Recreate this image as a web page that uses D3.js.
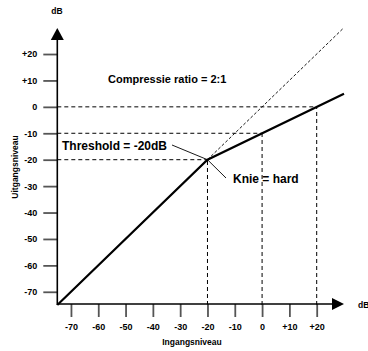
<!DOCTYPE html>
<html><head><meta charset="utf-8">
<script src="https://cdn.jsdelivr.net/npm/d3@7"></script>
<style>html,body{margin:0;padding:0;background:#fff;} svg{display:block;}</style>
</head><body>
<script>
const tickValues = [-70, -60, -50, -40, -30, -20, -10, 0, 10, 20];
const tickLabels = ["-70", "-60", "-50", "-40", "-30", "-20", "-10", "0", "+10", "+20"];
const transferIn = [-75, -20, 30];
const transferOut = [-75, -20, 5];
const unityIn = [-20, 30];
const unityOut = [-20, 30];
const guideIn = [-20, 0, 20];
const guideOut = [-20, -10, 0];
const axisUnit = "dB";
const xTitle = "Ingangsniveau";
const yTitle = "Uitgangsniveau";
const ratioText = "Compressie ratio = 2:1";
const thresholdText = "Threshold = -20dB";
const kneeText = "Knie = hard";

const W = 368, H = 351;
const svg = d3.select("body").append("svg").attr("width", W).attr("height", H)
  .style("font-family", "'Liberation Sans', Arial, Helvetica, sans-serif");

const x = d3.scaleLinear().domain([-75, 30]).range([57.3, 344]);
const y = d3.scaleLinear().domain([-75, 30]).range([305, 27.6]);

// dashed guide lines
const g = svg.append("g").attr("stroke", "#000").attr("stroke-width", 1).attr("stroke-dasharray", "4,3").attr("fill", "none");
guideIn.forEach((v, i) => {
  g.append("line").attr("x1", x(-75)).attr("x2", x(v)).attr("y1", y(guideOut[i])).attr("y2", y(guideOut[i]));
  g.append("line").attr("x1", x(v)).attr("x2", x(v)).attr("y1", y(-75)).attr("y2", y(guideOut[i]));
});

// unity dashed line
svg.append("path").datum(unityIn.map((v, i) => [v, unityOut[i]]))
  .attr("d", d3.line().x(d => x(d[0])).y(d => y(d[1])))
  .attr("fill", "none").attr("stroke", "#000").attr("stroke-width", 0.9).attr("stroke-dasharray", "3,2");

// axis ticks (gray)
const xAxis = d3.axisBottom(x).tickValues(tickValues).tickSize(13).tickFormat((d, i) => tickLabels[i]);
const yAxis = d3.axisLeft(y).tickValues(tickValues).tickSize(14).tickFormat((d, i) => tickLabels[i]);
const gx = svg.append("g").attr("transform", `translate(0,${y(-75) - 1})`).call(xAxis);
const gy = svg.append("g").attr("transform", `translate(${x(-75)},0)`).call(yAxis);
[gx, gy].forEach(a => {
  a.select(".domain").remove();
  a.selectAll(".tick line").attr("stroke", "#555").attr("stroke-width", 1.8);
  a.selectAll(".tick text").attr("fill", "#000").style("font-weight", "bold").style("font-size", "9px").style("font-family", "'Liberation Sans', Arial, sans-serif");
});
gx.selectAll(".tick text").attr("y", 20);
gy.selectAll(".tick text").attr("x", -20);

// axis lines with arrows
svg.append("line").attr("x1", x(-75)).attr("x2", 332).attr("y1", y(-75) - 1).attr("y2", y(-75) - 1).attr("stroke", "#000").attr("stroke-width", 1.6);
svg.append("path").attr("d", `M332,${y(-75) - 7}L344,${y(-75) - 1}L332,${y(-75) + 5}Z`).attr("fill", "#000");
svg.append("line").attr("x1", x(-75)).attr("x2", x(-75)).attr("y1", y(-75)).attr("y2", 40).attr("stroke", "#000").attr("stroke-width", 1.6);
svg.append("path").attr("d", `M${x(-75) - 6.5},40L${x(-75)},28L${x(-75) + 6.5},40Z`).attr("fill", "#000");

// transfer curve
svg.append("path").datum(transferIn.map((v, i) => [v, transferOut[i]]))
  .attr("d", d3.line().x(d => x(d[0])).y(d => y(d[1])))
  .attr("fill", "none").attr("stroke", "#000").attr("stroke-width", 2.2).attr("stroke-linejoin", "miter");

// leader lines
const kx = x(transferIn[1]), ky = y(transferOut[1]);
svg.append("line").attr("x1", 172).attr("y1", 145).attr("x2", kx).attr("y2", ky).attr("stroke", "#000").attr("stroke-width", 0.9);
svg.append("line").attr("x1", kx).attr("y1", ky).attr("x2", 226).attr("y2", 178).attr("stroke", "#000").attr("stroke-width", 0.9);

// texts
const bold = sel => sel.style("font-weight", "bold").attr("fill", "#000");
bold(svg.append("text").attr("x", 108).attr("y", 83).style("font-size", "11px").text(ratioText));
bold(svg.append("text").attr("x", 62).attr("y", 150).style("font-size", "12px").text(thresholdText));
bold(svg.append("text").attr("x", 233).attr("y", 183).style("font-size", "12px").text(kneeText));
bold(svg.append("text").attr("x", 57).attr("y", 14).attr("text-anchor", "middle").style("font-size", "8.5px").text(axisUnit));
bold(svg.append("text").attr("x", 358).attr("y", 308).style("font-size", "8.5px").text(axisUnit));
bold(svg.append("text").attr("x", 192).attr("y", 345).attr("text-anchor", "middle").style("font-size", "8.5px").text(xTitle));
bold(svg.append("text").attr("transform", "translate(18,167) rotate(-90)").attr("text-anchor", "middle").style("font-size", "8.5px").text(yTitle));
</script>
</body></html>
